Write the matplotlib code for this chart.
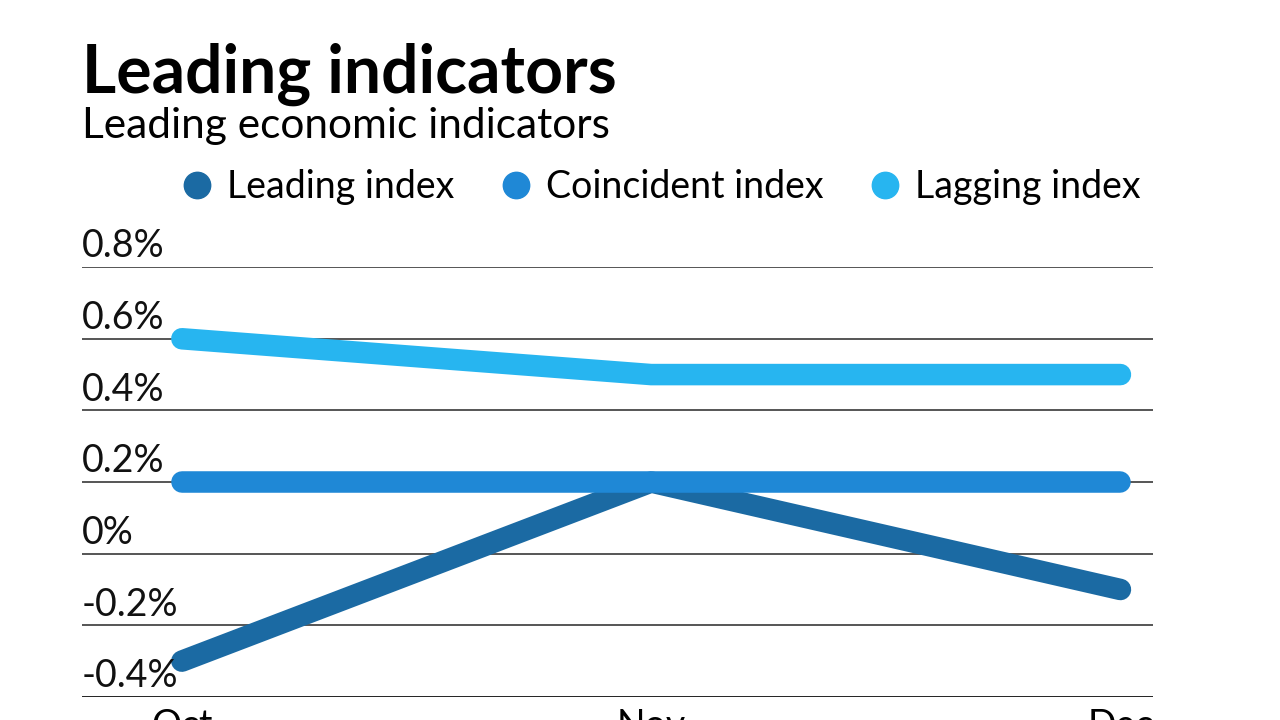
import matplotlib
matplotlib.use("Agg")
from matplotlib import pyplot as plt
from matplotlib.lines import Line2D
import matplotlib.transforms as mtransforms

months = ["Oct", "Nov", "Dec"]
leading = [-0.3, 0.2, -0.1]
coincident = [0.2, 0.2, 0.2]
lagging = [0.6, 0.5, 0.5]
series_names = ["Leading index", "Coincident index", "Lagging index"]
yticks = [-0.4, -0.2, 0, 0.2, 0.4, 0.6, 0.8]
ytick_labels = ["-0.4%", "-0.2%", "0%", "0.2%", "0.4%", "0.6%", "0.8%"]

colors = ["#1b6aa3", "#1f88d6", "#27b5f0"]

plt.rcParams["font.family"] = ["Lato", "DejaVu Sans"]

fig = plt.figure(figsize=(12.8, 7.2), dpi=100)
ax = fig.add_axes([0.064, 0.032, 0.837, 0.597])

x = list(range(len(months)))
for vals, c in zip([leading, coincident, lagging], colors):
    ax.plot(x, vals, color=c, lw=15.5, solid_capstyle="round", zorder=3)

ax.set_xlim(-0.213, 2.07)
ax.set_ylim(-0.4, 0.8)
for spine in ax.spines.values():
    spine.set_visible(False)

for t in yticks:
    col = "#222222" if t == yticks[0] else "#555555"
    ax.axhline(t, color=col, lw=1.4, zorder=1)

# labels sit just above each gridline
trans = mtransforms.blended_transform_factory(ax.transAxes, ax.transData)
trans = trans + mtransforms.ScaledTranslation(0, 7 / 72, fig.dpi_scale_trans)
for t, lab in zip(yticks, ytick_labels):
    ax.text(0, t, lab, transform=trans, ha="left", va="baseline",
            fontsize=27, color="#111111")
ax.set_yticks([])

ax.set_xticks(x)
ax.set_xticklabels(months, fontsize=27)
ax.tick_params(axis="x", length=0, pad=8)

fig.text(0.064, 0.872, "Leading indicators", fontsize=47.5, fontweight="bold",
         ha="left", va="baseline")
fig.text(0.064, 0.808, "Leading economic indicators", fontsize=30.5,
         ha="left", va="baseline")

handles = [Line2D([], [], marker="o", ls="none", color=c, markersize=19)
           for c in colors]
fig.legend(handles, series_names, loc="center", bbox_to_anchor=(0.515, 0.74),
           ncol=3, frameon=False, fontsize=27, handletextpad=0.3,
           columnspacing=1.15, handlelength=1.0)

fig.savefig("out.png", dpi=100)
